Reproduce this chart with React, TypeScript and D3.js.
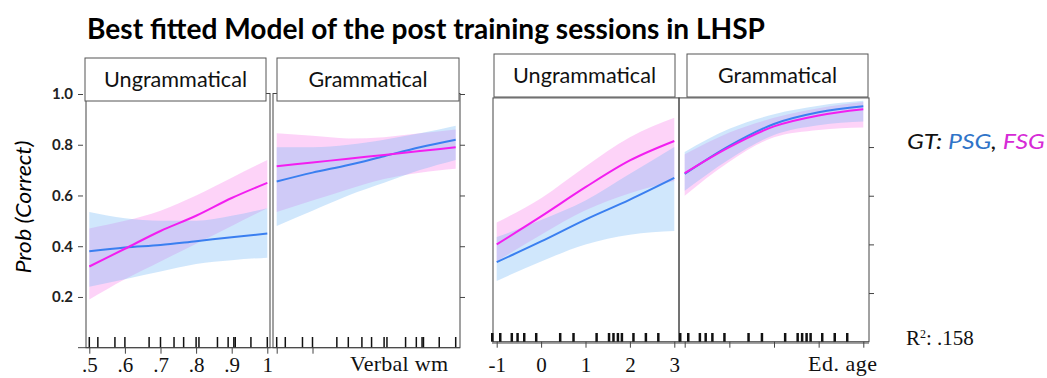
import React, { useEffect, useRef } from "react";
import * as d3 from "d3";

// Verbal working memory panels (x = .5 .. 1)
const wmX = [0.5, 0.6, 0.7, 0.8, 0.9, 1.0];
const wmUngramPSG = [0.38, 0.395, 0.405, 0.42, 0.435, 0.45];
const wmUngramPSGLo = [0.24, 0.27, 0.3, 0.33, 0.345, 0.355];
const wmUngramPSGHi = [0.535, 0.51, 0.5, 0.5, 0.52, 0.55];
const wmUngramFSG = [0.32, 0.39, 0.46, 0.52, 0.59, 0.65];
const wmUngramFSGLo = [0.19, 0.27, 0.34, 0.41, 0.48, 0.55];
const wmUngramFSGHi = [0.47, 0.5, 0.54, 0.6, 0.67, 0.74];
const wmGramPSG = [0.655, 0.69, 0.72, 0.755, 0.79, 0.82];
const wmGramPSGLo = [0.48, 0.54, 0.6, 0.65, 0.7, 0.74];
const wmGramPSGHi = [0.79, 0.79, 0.8, 0.82, 0.845, 0.875];
const wmGramFSG = [0.715, 0.73, 0.745, 0.76, 0.775, 0.79];
const wmGramFSGLo = [0.535, 0.58, 0.625, 0.665, 0.69, 0.705];
const wmGramFSGHi = [0.845, 0.835, 0.825, 0.83, 0.845, 0.86];
const wmRug = [0.5, 0.524, 0.572, 0.6, 0.668, 0.7, 0.738, 0.765, 0.8, 0.808, 0.86, 0.89, 0.906, 0.91, 0.954, 1.0];
const wmTicks = [0.5, 0.6, 0.7, 0.8, 0.9, 1.0];

// Education age panels (x = -1 .. 3)
const ageX = [-1, 0, 1, 2, 3];
const ageUngramPSG = [0.327, 0.412, 0.502, 0.584, 0.673];
const ageUngramPSGLo = [0.25, 0.33, 0.4, 0.44, 0.455];
const ageUngramPSGHi = [0.43, 0.5, 0.58, 0.69, 0.8];
const ageUngramFSG = [0.4, 0.515, 0.635, 0.745, 0.825];
const ageUngramFSGLo = [0.33, 0.44, 0.54, 0.61, 0.66];
const ageUngramFSGHi = [0.49, 0.59, 0.72, 0.84, 0.92];
const ageGramPSG = [0.69, 0.805, 0.895, 0.943, 0.968];
const ageGramPSGLo = [0.62, 0.75, 0.85, 0.89, 0.905];
const ageGramPSGHi = [0.78, 0.875, 0.935, 0.97, 0.99];
const ageGramFSG = [0.693, 0.8, 0.885, 0.93, 0.955];
const ageGramFSGLo = [0.6, 0.74, 0.84, 0.87, 0.88];
const ageGramFSGHi = [0.77, 0.86, 0.92, 0.96, 0.985];
const ageRug = [-1.1, -0.92, -0.66, -0.53, -0.38, -0.11, 0.43, 0.73, 1.25, 1.53, 1.63, 1.73, 1.82, 2.08, 2.36, 2.64];
const ageTicks = [-1, 0, 1, 2, 3];

const yTicks = [0.2, 0.4, 0.6, 0.8, 1.0];

const BLUE = "#3a7ff0";
const MAGENTA = "#f21ef0";
const SANS = "Lato, 'Open Sans', sans-serif";
const SERIF = "'Liberation Serif', 'DejaVu Serif', serif";

const App = () => {
  const svgRef = useRef(null);

  useEffect(() => {
    const svg = d3.select(svgRef.current);
    svg.selectAll("*").remove();

    const fmtWm = (d) => (d === 1 ? "1" : d3.format(".1f")(d).replace("0.", "."));
    const fmtAge = (d) => String(d);

    const panels = [
      { xs: wmX, frame: [86, 270], range: [89.3, 267.3], dom: [0.5, 1], y: [347.7, 94], label: "Ungrammatical",
        psg: [wmUngramPSG, wmUngramPSGLo, wmUngramPSGHi], fsg: [wmUngramFSG, wmUngramFSGLo, wmUngramFSGHi],
        rug: wmRug, ticks: wmTicks, fmt: fmtWm, box: [85, 266, 58, 101], rugTop: 337, rugW: 1.5, labelY: 372 },
      { xs: wmX, frame: [273, 460], range: [276.7, 455.7], dom: [0.5, 1], y: [347.7, 94], label: "Grammatical",
        psg: [wmGramPSG, wmGramPSGLo, wmGramPSGHi], fsg: [wmGramFSG, wmGramFSGLo, wmGramFSGHi],
        rug: wmRug, ticks: [0.5, 0.6], fmt: null, box: [277, 459, 58, 101], rugTop: 337, rugW: 1.5, labelY: 372 },
      { xs: ageX, frame: [493, 679], range: [496.7, 674.3], dom: [-1, 3], y: [341.7, 98.4], label: "Ungrammatical",
        psg: [ageUngramPSG, ageUngramPSGLo, ageUngramPSGHi], fsg: [ageUngramFSG, ageUngramFSGLo, ageUngramFSGHi],
        rug: ageRug, ticks: ageTicks, fmt: fmtAge, box: [494, 675, 54, 97], rugTop: 333, rugW: 2.5, labelY: 372 },
      { xs: ageX, frame: [679, 869], range: [684.7, 863.3], dom: [-1, 3], y: [341.7, 98.4], label: "Grammatical",
        psg: [ageGramPSG, ageGramPSGLo, ageGramPSGHi], fsg: [ageGramFSG, ageGramFSGLo, ageGramFSGHi],
        rug: ageRug, ticks: ageTicks, fmt: null, box: [687, 868, 54, 97], rugTop: 333, rugW: 2.5, labelY: 372 },
    ];

    // Title
    svg.append("text")
      .attr("x", 87).attr("y", 38.5)
      .attr("font-family", SANS).attr("font-weight", "bold").attr("font-size", 28)
      .attr("textLength", 678).attr("lengthAdjust", "spacingAndGlyphs")
      .text("Best fitted Model of the post training sessions in LHSP");

    panels.forEach((p) => {
      const x = d3.scaleLinear().domain(p.dom).range(p.range);
      const y = d3.scaleLinear().domain([0, 1]).range(p.y);
      const axisY = p.y[0];
      const g = svg.append("g");

      const band = (lo, hi) => d3.area()
        .x((d, i) => x(p.xs[i]))
        .y0((d, i) => y(lo[i]))
        .y1((d, i) => y(hi[i]))
        .curve(d3.curveMonotoneX)(p.xs);
      const line = (v) => d3.line()
        .x((d, i) => x(p.xs[i]))
        .y((d, i) => y(v[i]))
        .curve(d3.curveMonotoneX)(p.xs);

      g.append("path").attr("d", band(p.fsg[1], p.fsg[2])).attr("fill", "rgb(250,130,235)").attr("fill-opacity", 0.35);
      g.append("path").attr("d", band(p.psg[1], p.psg[2])).attr("fill", "rgb(120,185,245)").attr("fill-opacity", 0.35);
      g.append("path").attr("d", line(p.psg[0])).attr("fill", "none").attr("stroke", BLUE).attr("stroke-width", 2);
      g.append("path").attr("d", line(p.fsg[0])).attr("fill", "none").attr("stroke", MAGENTA).attr("stroke-width", 2);

      // frame
      g.append("rect")
        .attr("x", p.frame[0]).attr("y", p.y[1] - 0.5)
        .attr("width", p.frame[1] - p.frame[0]).attr("height", axisY - p.y[1] + 0.5)
        .attr("fill", "none").attr("stroke", "#444").attr("stroke-width", 1);

      // rug
      g.selectAll(".rug").data(p.rug).enter().append("line")
        .attr("x1", (d) => x(d)).attr("x2", (d) => x(d))
        .attr("y1", p.rugTop).attr("y2", axisY)
        .attr("stroke", "#111").attr("stroke-width", p.rugW);

      // x axis ticks
      const ax = g.append("g").attr("transform", `translate(0,${axisY})`)
        .call(d3.axisBottom(x).tickValues(p.ticks).tickSize(6).tickFormat(p.fmt ? p.fmt : () => ""));
      ax.select(".domain").remove();
      ax.selectAll("line").attr("stroke", "#444");
      ax.selectAll("text")
        .attr("y", p.labelY - axisY).attr("dy", null)
        .attr("font-family", SERIF).attr("font-size", 21).attr("fill", "#111");

      // strip
      g.append("rect")
        .attr("x", p.box[0]).attr("y", p.box[2])
        .attr("width", p.box[1] - p.box[0]).attr("height", p.box[3] - p.box[2])
        .attr("fill", "#fff").attr("stroke", "#555").attr("stroke-width", 1);
      g.append("text")
        .attr("x", (p.box[0] + p.box[1]) / 2).attr("y", p.box[3] - 14)
        .attr("text-anchor", "middle")
        .attr("font-family", SANS).attr("font-size", 21).attr("fill", "#111")
        .attr("textLength", p.label === "Ungrammatical" ? 143 : 119)
        .attr("lengthAdjust", "spacingAndGlyphs")
        .text(p.label);
    });

    // bottom axis lines
    svg.append("line").attr("x1", 78).attr("x2", 460).attr("y1", 347.7).attr("y2", 347.7).attr("stroke", "#444");
    svg.append("line").attr("x1", 492).attr("x2", 869).attr("y1", 343).attr("y2", 343).attr("stroke", "#444");

    // left y axis
    const yL = d3.scaleLinear().domain([0, 1]).range([347.7, 94]);
    const ayL = svg.append("g").attr("transform", "translate(83,0)")
      .call(d3.axisLeft(yL).tickValues(yTicks).tickSize(5).tickFormat(d3.format(".1f")));
    ayL.select(".domain").remove();
    ayL.selectAll("line").attr("stroke", "#444");
    ayL.selectAll("text").attr("x", -10).attr("font-family", SANS).attr("font-weight", "bold")
      .attr("font-size", 15).attr("fill", "#222");
    const ayL2 = svg.append("g").attr("transform", "translate(460,0)")
      .call(d3.axisRight(yL).tickValues(yTicks).tickSize(5).tickFormat(() => ""));
    ayL2.select(".domain").remove();
    ayL2.selectAll("line").attr("stroke", "#444");

    const yR = d3.scaleLinear().domain([0, 1]).range([341.7, 98.4]);
    const ayR = svg.append("g").attr("transform", "translate(869,0)")
      .call(d3.axisRight(yR).tickValues(yTicks.slice(0, 4)).tickSize(5).tickFormat(() => ""));
    ayR.select(".domain").remove();
    ayR.selectAll("line").attr("stroke", "#444");

    // y label
    svg.append("text")
      .attr("transform", "translate(31,207) rotate(-90)")
      .attr("text-anchor", "middle")
      .attr("font-family", SANS).attr("font-style", "italic").attr("font-size", 22)
      .attr("textLength", 133).attr("lengthAdjust", "spacingAndGlyphs")
      .text("Prob (Correct)");

    // axis titles
    svg.append("text").attr("x", 350).attr("y", 371).attr("font-family", SERIF).attr("font-size", 22)
      .attr("textLength", 98).attr("fill", "#111").text("Verbal wm");
    svg.append("text").attr("x", 808).attr("y", 371).attr("font-family", SERIF).attr("font-size", 22)
      .attr("textLength", 69).attr("fill", "#111").text("Ed. age");

    // legend
    const leg = svg.append("text").attr("x", 907).attr("y", 149)
      .attr("font-family", SANS).attr("font-style", "italic").attr("font-size", 22)
      .attr("textLength", 138).attr("lengthAdjust", "spacingAndGlyphs");
    leg.append("tspan").attr("fill", "#111").text("GT: ");
    leg.append("tspan").attr("fill", "#2f74c8").text("PSG");
    leg.append("tspan").attr("fill", "#111").text(", ");
    leg.append("tspan").attr("fill", "#d62ad6").text("FSG");

    // R squared
    const r2 = svg.append("text").attr("x", 906).attr("y", 345)
      .attr("font-family", SERIF).attr("font-size", 21).attr("fill", "#111");
    r2.append("tspan").text("R");
    r2.append("tspan").attr("font-size", 12).attr("dy", -7).text("2");
    r2.append("tspan").attr("dy", 7).text(": .158");
  }, []);

  return (
    <svg
      ref={svgRef}
      width={1047}
      height={378}
      style={{ position: "fixed", left: 0, top: 0, background: "#fff" }}
    ></svg>
  );
};

export default App;
